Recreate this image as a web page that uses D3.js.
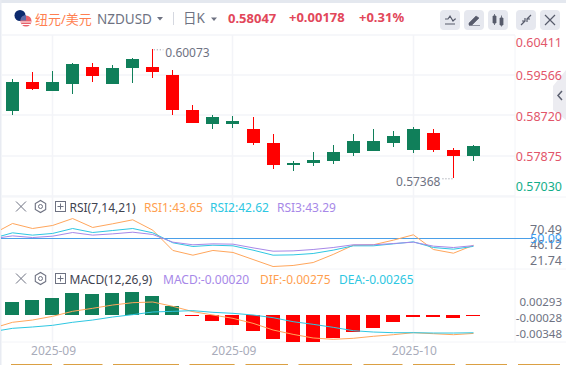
<!DOCTYPE html>
<html>
<head>
<meta charset="utf-8">
<script src="https://d3js.org/d3.v7.min.js"></script>
<style>
  html, body { margin: 0; padding: 0; background: #fff; overflow: hidden; }
  text { font-family: "Noto Sans", "Noto Sans CJK SC", sans-serif; }
</style>
</head>
<body>
<div id="chart"></div>
<script>
// candle values, one entry per day
let opens  = [0.58786,0.59387,0.59205,0.59352,0.59702,0.59352,0.59681,0.59702,0.59534,0.58800,0.58507,0.58507,0.58402,0.58108,0.57653,0.57689,0.57731,0.57899,0.57940,0.58108,0.57961,0.58318,0.57961,0.57836]
let highs  = [0.59450,0.59597,0.59618,0.59786,0.59786,0.59744,0.59891,0.60073,0.59639,0.58905,0.58695,0.58674,0.58653,0.58297,0.57731,0.57920,0.58066,0.58297,0.58402,0.58360,0.58444,0.58402,0.58003,0.58069]
let lows   = [0.58702,0.59220,0.59205,0.59136,0.59394,0.59352,0.59373,0.59471,0.58702,0.58534,0.58402,0.58423,0.58066,0.57563,0.57521,0.57626,0.57668,0.57836,0.57940,0.58024,0.57899,0.57920,0.57368,0.57731]
let closes = [0.59387,0.59247,0.59387,0.59765,0.59519,0.59681,0.59870,0.59597,0.58806,0.58534,0.58653,0.58570,0.58108,0.57647,0.57695,0.57752,0.57920,0.58150,0.58150,0.58255,0.58402,0.57961,0.57836,0.58047]

// the indicator lines start one day before the first candle
let rsi1 = [54.2,64.4,59.6,62.5,69.1,60.6,64.1,67.9,58.0,38.7,34.2,38.7,36.8,30.1,23.4,24.4,27.2,34.9,43.7,44.1,48.5,53.6,39.6,36.1,43.65]
let rsi2 = [50.1,55.5,53.3,54.9,59.6,55.8,57.7,59.6,55.5,46.0,42.5,43.7,43.1,39.0,34.2,34.5,35.8,39.0,43.1,43.1,45.0,46.9,41.5,39.9,42.62]
let rsi3 = [49.8,52.6,51.0,52.3,55.8,53.3,54.5,56.1,53.9,46.6,44.1,45.0,44.7,41.2,38.0,38.3,39.6,41.5,44.1,44.1,45.3,46.6,42.8,41.5,43.29]

let macdHist = [0.00194,0.00224,0.00254,0.00328,0.00313,0.00328,0.00343,0.00284,0.00134,-0.00015,-0.00090,-0.00149,-0.00239,-0.00358,-0.00403,-0.00403,-0.00343,-0.00254,-0.00194,-0.00104,-0.00030,-0.00030,-0.00045,-0.00020]
let dif = [-0.00199,-0.00109,-0.00075,-0.00020,0.00055,0.00100,0.00149,0.00184,0.00194,0.00129,0.00050,0,-0.00050,-0.00124,-0.00224,-0.00289,-0.00343,-0.00363,-0.00348,-0.00318,-0.00294,-0.00264,-0.00279,-0.00294,-0.00275]
let dea = [-0.00249,-0.00199,-0.00179,-0.00154,-0.00109,-0.00075,-0.00030,0.00005,0.00045,0.00055,0.00065,0.00040,0.00025,0,-0.00040,-0.00100,-0.00139,-0.00184,-0.00234,-0.00254,-0.00264,-0.00264,-0.00269,-0.00269,-0.00265]

// tick labels
let priceTicks = [0.60411,0.59566,0.58720,0.57875,0.57030]
let rsiTicks = [70.49,46.12,21.74]
let rsiMid = 50.09
let macdTicks = [0.00293,-0.00028,-0.00348]
let xTickDays = [2,11,20]
let xTickLabels = ["2025-09","2025-09","2025-10"]
let maxPrice = 0.60073
let minPrice = 0.57368

let green = "#107f5a", red = "#ff0000"
let gridColor = "#f3f4f8", grayText = "#6e7282"
let orange = "#ffa65c", cyan = "#2ec7e2", purple = "#a788e8"

let width = 566, height = 365
let svg = d3.select("#chart").append("svg")
  .attr("width", width).attr("height", height)
  .style("display", "block")

let x = d3.scaleLinear().domain([0,23]).range([12.5,473.5])
let y = d3.scaleLinear().domain([maxPrice,minPrice]).range([49.3,178.3])
let yRsi = d3.scaleLinear().domain([rsiMid,0]).range([238.5,238.5+rsiMid*1.05])
let yRsiLabel = d3.scaleLinear().domain([rsiTicks[0],rsiTicks[2]]).range([229.5,260.5])
let yMacd = d3.scaleLinear().domain([0,-0.01]).range([315,382])
let yMacdLabel = d3.scaleLinear().domain([macdTicks[0],macdTicks[2]]).range([301.5,333.5])
let dayIdx = opens.map((d,i) => i)

//frame
svg.append("rect").attr("width",width).attr("height",3).attr("fill","#e4e8ef")
svg.append("rect").attr("width",1.5).attr("height",height).attr("fill","#e8ebf2")

//grid
let gridYs = priceTicks.map(d => Math.round(y(d)+1.5))
svg.append("g").selectAll("line").data(gridYs).enter().append("line")
  .attr("x1",2).attr("x2",515).attr("y1",d => d).attr("y2",d => d)
  .attr("stroke",gridColor).attr("stroke-width",1.5)
svg.append("g").selectAll("line").data([197,269,342]).enter().append("line")
  .attr("x1",2).attr("x2",566).attr("y1",d => d).attr("y2",d => d)
  .attr("stroke",gridColor).attr("stroke-width",1)
svg.append("g").selectAll("line").data(xTickDays).enter().append("line")
  .attr("x1",d => Math.floor(x(d))+0.5).attr("x2",d => Math.floor(x(d))+0.5).attr("y1",35).attr("y2",342)
  .attr("stroke",gridColor).attr("stroke-width",1.5)
svg.append("line").attr("x1",515).attr("x2",515).attr("y1",35).attr("y2",342)
  .attr("stroke",gridColor).attr("stroke-width",1)

//candles
let candles = svg.append("g").attr("shape-rendering","crispEdges")
  .selectAll("g").data(dayIdx).enter().append("g")
  .attr("fill", i => closes[i] >= opens[i] ? green : red)
candles.append("rect")
  .attr("x", i => Math.floor(x(i))).attr("width",1)
  .attr("y", i => y(highs[i]))
  .attr("height", i => y(lows[i])-y(highs[i]))
candles.append("rect")
  .attr("x", i => Math.floor(x(i))-6).attr("width",13)
  .attr("y", i => y(Math.max(opens[i],closes[i])))
  .attr("height", i => Math.max(1,Math.abs(y(opens[i])-y(closes[i]))))

//high and low notes
function priceNote(day,value,dx,anchor){
  let px = x(day)+dx
  svg.append("line")
    .attr("x1",x(day)+(dx>0?1:-1)).attr("x2",px+(dx>0?-2:2))
    .attr("y1",y(value)+0.5).attr("y2",y(value)+0.5)
    .attr("stroke","#8a8e9c").attr("stroke-dasharray","1 2")
  svg.append("text").text(value.toFixed(5))
    .attr("x",px).attr("y",y(value)+(dx>0?8:7.5))
    .attr("text-anchor",anchor)
    .attr("font-size",12).attr("fill",grayText)
}
priceNote(7,maxPrice,12.5,"start")
priceNote(22,minPrice,-13,"end")

//line helpers, index 0 of an indicator is the day before the first candle
function drawLine(values,scale,color){
  svg.append("path")
    .datum(values)
    .attr("fill","none").attr("stroke",color).attr("stroke-width",1)
    .attr("clip-path","url(#plotClip)")
    .attr("d",d3.line().x((d,i) => x(i-1)).y(d => scale(d)))
}
svg.append("clipPath").attr("id","plotClip").append("rect")
  .attr("x",1).attr("y",35).attr("width",514).attr("height",307)

//RSI
svg.append("line").attr("x1",1).attr("x2",533)
  .attr("y1",yRsi(rsiMid)).attr("y2",yRsi(rsiMid))
  .attr("stroke","#4a9fe8").attr("stroke-width",1)
drawLine(rsi1,yRsi,orange)
drawLine(rsi2,yRsi,cyan)
drawLine(rsi3,yRsi,purple)

//MACD bars
svg.append("g").attr("shape-rendering","crispEdges")
  .selectAll("rect").data(dayIdx).enter().append("rect")
  .attr("x", i => Math.floor(x(i))-7).attr("width",14)
  .attr("y", i => yMacd(Math.max(0,macdHist[i])))
  .attr("height", i => Math.abs(yMacd(macdHist[i])-yMacd(0)))
  .attr("fill", i => macdHist[i] >= 0 ? green : red)
drawLine(dif,yMacd,orange)
drawLine(dea,yMacd,cyan)

//x labels
svg.append("g").selectAll("text").data(xTickDays).enter().append("text")
  .text((d,i) => xTickLabels[i])
  .attr("x",d => x(d)+1).attr("y",355)
  .attr("text-anchor","middle").attr("font-size",12).attr("fill","#a9acba")

//right side tab, sits under the price labels
svg.append("path")
  .attr("d","M566 70L553 86V110L566 120Z").attr("fill","#ececf1")
svg.append("path")
  .attr("d","M562 91L558 95.5L562 100").attr("fill","none")
  .attr("stroke","#5c6070").attr("stroke-width",1.5)

//price axis
svg.append("g").selectAll("text").data(priceTicks).enter().append("text")
  .text(d => d.toFixed(5))
  .attr("x",562).attr("text-anchor","end")
  .attr("y",d => Math.max(42,Math.min(186,y(d)+2.5))+4.5)
  .attr("font-size",12.5)
  .attr("fill",(d,i) => i == priceTicks.length-1 ? "#14ae8a" : "#e2566a")

//indicator axes
svg.append("g").selectAll("text").data(rsiTicks).enter().append("text")
  .text(d => d.toFixed(2))
  .attr("x",562).attr("y",d => yRsiLabel(d)+4.5).attr("text-anchor","end")
  .attr("font-size",12.5).attr("fill",grayText)
svg.append("text").text(rsiMid.toFixed(2))
  .attr("x",562).attr("y",yRsi(rsiMid)+4.5).attr("text-anchor","end")
  .attr("font-size",12.5).attr("fill","#3d9dee")
svg.append("g").selectAll("text").data(macdTicks).enter().append("text")
  .text(d => d.toFixed(5))
  .attr("x",562).attr("y",d => yMacdLabel(d)+4.5).attr("text-anchor","end")
  .attr("font-size",11.5).attr("fill",grayText)

//header
function label(str,px,py,size,color,weight){
  return svg.append("text").text(str).attr("x",px).attr("y",py)
    .attr("font-size",size).attr("fill",color).attr("font-weight",weight || 400)
}
function caret(px,py){
  svg.append("path").attr("d",`M${px-3} ${py}h6l-3 3.5z`).attr("fill","#6e7282")
}
label("纽元/美元",35,24,13,"#ff7f50")
label("NZDUSD",97,24,13.5,grayText)
caret(160,17)
svg.append("line").attr("x1",173.5).attr("x2",173.5).attr("y1",12).attr("y2",25).attr("stroke","#d5d8e0")
label("日K",183,23,13.5,grayText)
caret(214,17.5)
label("0.58047",228,23,13,"#e2475a",700)
label("+0.00178",289,22,13,"#e2475a",700)
label("+0.31%",359,22,13,"#e2475a",700)

//flags
let flags = svg.append("g")
flags.append("circle").attr("cx",20).attr("cy",15.5).attr("r",5.5).attr("fill","#0d2a6e")
flags.append("circle").attr("cx",26).attr("cy",21).attr("r",5.5).attr("fill","#e8606a")
flags.append("path").attr("d","M20.5 20.5a5.5 5.5 0 0 1 5.5 -5.5v5.5z").attr("fill","#5d6aa8")
flags.append("path").attr("d","M21 22h10M21.5 24.5h9").attr("stroke","#fff").attr("stroke-width",1)

//toolbar buttons
let buttonLefts = [440,464,488,516,540]
svg.append("g").selectAll("rect").data(buttonLefts).enter().append("rect")
  .attr("x",d => d).attr("y",10).attr("width",20).attr("height",20).attr("rx",4)
  .attr("fill","#e6e8ef")
let iconColor = "#575b6b"
svg.append("path").attr("d","M445 19h3l2-3 3 5 2-2h1M445 24h10")
  .attr("fill","none").attr("stroke",iconColor).attr("stroke-width",1.2)
svg.append("path").attr("d","M469 23l7-7 3 2-7 7h-3zM469 25.5h11")
  .attr("fill",iconColor).attr("stroke",iconColor).attr("stroke-width",0.6)
svg.append("path").attr("d","M493 16h3v7h-3zM500 18h3v7h-3z M494.5 14v11M501.5 15.5v11")
  .attr("fill",iconColor).attr("stroke",iconColor).attr("stroke-width",0.8)
svg.append("path").attr("d","M521 25l4-4M531 15l-4 4M525 18v3h-3M527 22v-3h3")
  .attr("fill","none").attr("stroke",iconColor).attr("stroke-width",1.2)
svg.append("path").attr("d","M545 15l10 10M555 15l-10 10")
  .attr("stroke",iconColor).attr("stroke-width",1.2)

//indicator titles
function panelTitle(py,name,items){
  svg.append("path").attr("d",`M16 ${py-5.5}l10 10M26 ${py-5.5}l-10 10`)
    .attr("stroke",grayText).attr("stroke-width",1)
  let hex = d3.range(6).map(k => {
    let a = Math.PI/3*k+Math.PI/6
    return [40.5+6*Math.cos(a),py+6*Math.sin(a)-0.5]
  })
  svg.append("path").attr("d","M"+hex.join("L")+"Z")
    .attr("fill","none").attr("stroke",grayText).attr("stroke-width",1.1)
  svg.append("circle").attr("cx",40.5).attr("cy",py-0.5).attr("r",2)
    .attr("fill","none").attr("stroke",grayText)
  svg.append("rect").attr("x",55.5).attr("y",py-5.5).attr("width",10).attr("height",10)
    .attr("fill","none").attr("stroke",grayText)
  svg.append("path").attr("d",`M57.5 ${py-0.5}h6M60.5 ${py-3.5}v6`).attr("stroke",grayText)
  label(name,69.5,py+4.5,12,"#3f4350")
  items.forEach(d => label(d[0],d[1],py+4.5,12,d[2]))
}
panelTitle(207,"RSI(7,14,21)",[["RSI1:43.65",144,"#ff9f50"],["RSI2:42.62",210,"#2ec7e2"],["RSI3:43.29",277,"#a788e8"]])
panelTitle(279,"MACD(12,26,9)",[["MACD:-0.00020",163,"#a788e8"],["DIF:-0.00275",260,"#ff9f50"],["DEA:-0.00265",339,"#2ec7e2"]])

//bottom tabs, only their top edge is in the window
let tabStarts = [11,63.5,113,189.5,245.5,298.5,363.5,413,465.7,518]
let tabEnds = [52,102.5,179,234.6,288,352,402.5,455,507,560]
svg.append("g").selectAll("rect").data(tabStarts).enter().append("rect")
  .attr("x",d => d).attr("y",364).attr("height",1)
  .attr("width",(d,i) => tabEnds[i]-d).attr("fill","#dba043")
</script>
</body>
</html>
